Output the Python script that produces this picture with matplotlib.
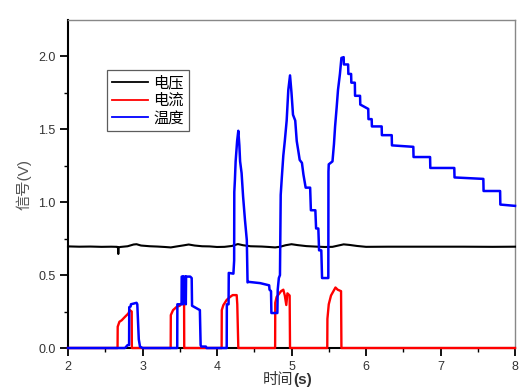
import matplotlib
matplotlib.use("Agg")
import matplotlib.pyplot as plt
from matplotlib.ticker import FixedLocator

plt.rcParams['font.family'] = ['Liberation Sans', 'Noto Sans CJK SC', 'DejaVu Sans']

# ---- data ----
volt_t = [2.0, 2.15, 2.3, 2.45, 2.58, 2.66, 2.67, 2.675, 2.68, 2.70, 2.8, 2.88, 2.92, 2.98,
          3.1, 3.2, 3.3, 3.38, 3.45, 3.55, 3.62, 3.7, 3.8, 3.9, 4.0, 4.1, 4.2, 4.28,
          4.35, 4.45, 4.6, 4.7, 4.78, 4.85, 4.92, 5.0, 5.08, 5.2, 5.35, 5.45, 5.55,
          5.62, 5.7, 5.78, 5.88, 6.0, 6.3, 6.8, 7.3, 7.7, 8.0]
volt_v = [0.697, 0.695, 0.696, 0.694, 0.695, 0.694, 0.690, 0.645, 0.690, 0.693, 0.698,
          0.710, 0.712, 0.703, 0.698, 0.696, 0.693, 0.690, 0.696, 0.704, 0.710, 0.703,
          0.698, 0.697, 0.693, 0.694, 0.700, 0.713, 0.705, 0.698, 0.696, 0.693, 0.690,
          0.695, 0.705, 0.712, 0.706, 0.699, 0.695, 0.693, 0.694, 0.702, 0.711, 0.707,
          0.700, 0.694, 0.695, 0.695, 0.695, 0.694, 0.695]

curr_t = [2.0, 2.665, 2.667, 2.69, 2.72, 2.765, 2.81, 2.83, 2.855, 2.857,
          3.378, 3.38, 3.41, 3.46, 3.50, 3.55, 3.558, 3.56,
          4.062, 4.064, 4.085, 4.13, 4.175, 4.21, 4.264, 4.272, 4.286,
          4.78, 4.782, 4.80, 4.86, 4.89, 4.91, 4.93, 4.945, 4.975, 4.98,
          5.48, 5.482, 5.50, 5.53, 5.59, 5.62, 5.665, 5.67, 8.0]
curr_v = [0.0, 0.0, 0.146, 0.18, 0.19, 0.214, 0.237, 0.26, 0.25, 0.0,
          0.0, 0.226, 0.26, 0.283, 0.29, 0.32, 0.32, 0.0,
          0.0, 0.26, 0.294, 0.33, 0.35, 0.363, 0.363, 0.30, 0.0,
          0.0, 0.31, 0.35, 0.39, 0.40, 0.36, 0.295, 0.375, 0.36, 0.0,
          0.0, 0.20, 0.30, 0.36, 0.415, 0.40, 0.39, 0.0, 0.0]

temp_t = [2.0, 2.765, 2.80, 2.82, 2.822, 2.84, 2.845, 2.92, 2.93, 2.95, 2.966, 3.0,
          3.466, 3.468, 3.524, 3.526, 3.54, 3.543, 3.548, 3.578, 3.581, 3.585, 3.64,
          3.66, 3.665, 3.77, 3.78, 3.79, 3.85, 3.86,
          4.13, 4.132, 4.155, 4.158, 4.22, 4.23, 4.232, 4.24, 4.25, 4.27, 4.286, 4.30,
          4.31, 4.33, 4.35, 4.375, 4.40, 4.41, 4.42, 4.58, 4.70, 4.705, 4.725, 4.73,
          4.81, 4.815, 4.83, 4.845, 4.855, 4.87, 4.89, 4.91, 4.935, 4.957, 4.98,
          5.00, 5.02, 5.05, 5.07, 5.09, 5.11, 5.14, 5.16, 5.19, 5.25, 5.26, 5.32,
          5.33, 5.36, 5.37, 5.40, 5.41, 5.494, 5.496, 5.50, 5.55, 5.57, 5.585,
          5.606, 5.624, 5.65, 5.67, 5.70, 5.703, 5.76, 5.763, 5.80, 5.803, 5.85,
          5.853, 5.92, 5.923, 6.03, 6.033, 6.076, 6.079, 6.21, 6.213, 6.345, 6.348,
          6.635, 6.638, 6.86, 6.863, 7.185, 7.188, 7.575, 7.578, 7.80, 7.803, 8.0]
temp_v = [0.0, 0.0, 0.02, 0.02, 0.28, 0.285, 0.30, 0.31, 0.30, 0.06, 0.01, 0.0,
          0.0, 0.30, 0.30, 0.49, 0.49, 0.30, 0.49, 0.49, 0.30, 0.49, 0.49,
          0.48, 0.29, 0.26, 0.02, 0.01, 0.01, 0.0,
          0.0, 0.30, 0.30, 0.515, 0.51, 0.60, 1.07, 1.15, 1.28, 1.42, 1.49, 1.39,
          1.28, 1.20, 1.04, 0.88, 0.74, 0.45, 0.454, 0.445, 0.43, 0.40, 0.39, 0.24,
          0.24, 0.40, 0.48, 0.50, 1.05, 1.17, 1.32, 1.42, 1.56, 1.77, 1.87,
          1.75, 1.60, 1.56, 1.42, 1.356, 1.29, 1.27, 1.19, 1.10, 1.10, 0.945, 0.945,
          0.82, 0.82, 0.67, 0.67, 0.48, 0.48, 1.21, 1.26, 1.28, 1.40, 1.52,
          1.65, 1.77, 1.88, 1.99, 1.995, 1.945, 1.945, 1.88, 1.88, 1.82, 1.82,
          1.73, 1.73, 1.67, 1.64, 1.57, 1.57, 1.52, 1.52, 1.46, 1.46, 1.39,
          1.38, 1.31, 1.31, 1.235, 1.235, 1.17, 1.16, 1.077, 1.077, 0.984, 0.975]

xticks = [2, 3, 4, 5, 6, 7, 8]
xminor = [2.5, 3.5, 4.5, 5.5, 6.5, 7.5]
yticks = [0.0, 0.5, 1.0, 1.5, 2.0]
yminor = [0.25, 0.75, 1.25, 1.75]
labels = ['电压', '电流', '温度']
colors = ['#000000', '#ff0000', '#0000ff']

fig = plt.figure(figsize=(5.28, 3.92), dpi=100)
ax = fig.add_axes([0.1288, 0.1122, 0.8466, 0.8368])

ax.plot(volt_t, volt_v, color=colors[0], lw=1.5, label=labels[0], clip_on=False, zorder=3)
ax.plot(curr_t, curr_v, color=colors[1], lw=1.7, label=labels[1], clip_on=False, zorder=4)
ax.plot(temp_t, temp_v, color=colors[2], lw=1.8, label=labels[2], clip_on=False, zorder=5)

ax.set_xlim(2, 8)
ax.set_ylim(0, 2.25)
ax.set_xticks(xticks)
ax.set_xticklabels([str(v) for v in xticks])
ax.set_yticks(yticks)
ax.set_yticklabels([f'{v:.1f}' for v in yticks])
ax.xaxis.set_minor_locator(FixedLocator(xminor))
ax.yaxis.set_minor_locator(FixedLocator(yminor))

ax.tick_params(which='major', direction='out', length=5.5, width=1.3, labelsize=9,
               labelcolor='#333333', pad=3.5, top=False, right=False)
ax.tick_params(which='minor', direction='out', length=3, width=1.0, top=False, right=False)

for s in ['left', 'bottom']:
    ax.spines[s].set_linewidth(1.5)
    ax.spines[s].set_color('black')
for s in ['top', 'right']:
    ax.spines[s].set_linewidth(1.0)
    ax.spines[s].set_color('#888888')

# x label: "时间" regular followed by bold "(s)"
t1 = ax.text(0.503, -0.075, '时间', transform=ax.transAxes, ha='right', va='top',
             fontsize=11, color='#333333')
ax.annotate('(s)', xy=(1.0, 0.5), xycoords=t1, ha='left', va='center',
            fontsize=11, fontweight='bold', color='#333333')
ax.set_ylabel('信号(V)', fontsize=11, color='#555555', labelpad=5)

leg = ax.legend(loc='upper left', bbox_to_anchor=(0.087, 0.848), borderaxespad=0,
                fontsize=11, frameon=True, fancybox=False, handlelength=2.35,
                handletextpad=0.35, borderpad=0.35, labelspacing=0.25)
leg.get_frame().set_edgecolor('#333333')
leg.get_frame().set_linewidth(0.9)
for h in leg.get_lines():
    h.set_linewidth(1.3)

fig.savefig('out.png', dpi=100)
